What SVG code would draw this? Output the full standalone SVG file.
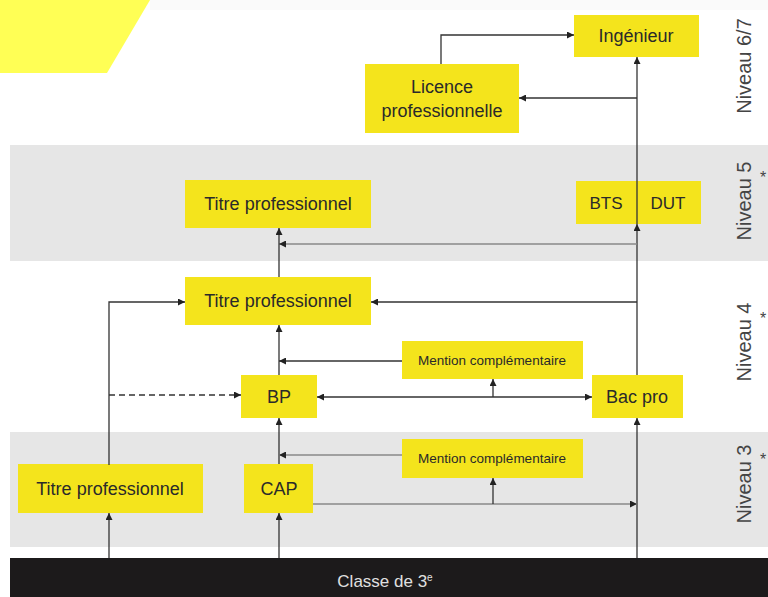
<svg xmlns="http://www.w3.org/2000/svg" width="768" height="597" viewBox="0 0 768 597">
<defs>
<marker id="ah" viewBox="0 0 10 10" refX="10" refY="5" markerWidth="7" markerHeight="7" markerUnits="userSpaceOnUse" orient="auto-start-reverse">
<path d="M0,0 L10,5 L0,10 z" fill="#222"/>
</marker>
<style>
.node rect{fill:#f4e41c}
.node text{font-family:"Liberation Sans",Arial,sans-serif;font-size:18px;fill:#2a2a2a;text-anchor:middle}
.node text.sm{font-size:13.5px}
.band{fill:#e6e6e6}
.lvl{font-family:"Liberation Sans",Arial,sans-serif;font-size:20px;fill:#444;text-anchor:middle}
.ast{font-family:"Liberation Sans",Arial,sans-serif;font-size:16px;fill:#444;text-anchor:middle}
.c{fill:none;stroke:#333;stroke-width:1.3}
.g{fill:none;stroke:#888;stroke-width:1.3}
</style>
</defs>
<rect x="0" y="0" width="768" height="597" fill="#ffffff"/>
<rect x="150" y="0" width="618" height="10" fill="#fafafa"/>
<polygon points="0,0 150,0 107,73 0,73" fill="#ffff55"/>
<rect class="band" x="10" y="145" width="758" height="116"/>
<rect class="band" x="10" y="432" width="758" height="115"/>
<rect x="10" y="558" width="758" height="39" fill="#1c1a1b"/>
<text x="385" y="587" font-family="'Liberation Sans',Arial,sans-serif" font-size="17" fill="#e0e0e0" text-anchor="middle">Classe de 3<tspan font-size="10" dy="-6">e</tspan></text>

<g id="levels">
<text class="lvl" transform="translate(751,66) rotate(-90)">Niveau 6/7</text>
<text class="lvl" transform="translate(751,201) rotate(-90)">Niveau 5</text>
<text class="ast" x="763" y="183">*</text>
<text class="lvl" transform="translate(751,342) rotate(-90)">Niveau 4</text>
<text class="ast" x="763" y="324">*</text>
<text class="lvl" transform="translate(751,484) rotate(-90)">Niveau 3</text>
<text class="ast" x="763" y="465">*</text>
</g>

<g id="ingenieur" class="node"><rect x="574" y="15" width="125" height="42"/><text x="636" y="42">Ingénieur</text></g>
<g id="licence" class="node"><rect x="365" y="64" width="154" height="69"/><text x="442" y="93">Licence</text><text x="442" y="117">professionnelle</text></g>
<g id="titre5" class="node"><rect x="185" y="180" width="186" height="48"/><text x="278" y="210">Titre professionnel</text></g>
<g id="btsdut" class="node"><rect x="576" y="181" width="125" height="43"/><text x="606" y="209" style="font-size:17px">BTS</text><text x="668" y="209" style="font-size:17px">DUT</text></g>
<g id="titre4" class="node"><rect x="185" y="277" width="186" height="48"/><text x="278" y="307">Titre professionnel</text></g>
<g id="mc4" class="node"><rect x="402" y="341" width="181" height="38"/><text class="sm" x="492" y="365">Mention complémentaire</text></g>
<g id="bp" class="node"><rect x="241" y="375" width="76" height="43"/><text x="279" y="403">BP</text></g>
<g id="bacpro" class="node"><rect x="592" y="375" width="91" height="43"/><text x="637" y="403">Bac pro</text></g>
<g id="mc3" class="node"><rect x="402" y="439" width="181" height="39"/><text class="sm" x="492" y="463">Mention complémentaire</text></g>
<g id="titre3" class="node"><rect x="18" y="464" width="185" height="49"/><text x="110" y="495">Titre professionnel</text></g>
<g id="cap" class="node"><rect x="244" y="464" width="69" height="49"/><text x="279" y="495">CAP</text></g>

<g id="connectors">
<path class="c" d="M441,64 V35 H574" marker-end="url(#ah)"/>
<path class="c" d="M637,558 V418" marker-end="url(#ah)"/>
<path class="c" d="M637,375 V224" marker-end="url(#ah)"/>
<path class="c" d="M637,224 V57" marker-end="url(#ah)"/>
<path class="c" d="M637,98 H519" marker-end="url(#ah)"/>
<path class="g" d="M637,244 H279" marker-end="url(#ah)"/>
<path class="c" d="M279,277 V228" marker-end="url(#ah)"/>
<path class="c" d="M637,302 H371" marker-end="url(#ah)"/>
<path class="c" d="M109,465 V302 H185" marker-end="url(#ah)"/>
<path class="c" d="M109,395 H241" stroke-dasharray="6,4" marker-end="url(#ah)"/>
<path class="c" d="M279,375 V325" marker-end="url(#ah)"/>
<path class="c" d="M402,361 H279" marker-end="url(#ah)"/>
<path class="c" d="M317,397 H592" marker-start="url(#ah)" marker-end="url(#ah)"/>
<path class="c" d="M493,397 V379" marker-end="url(#ah)"/>
<path class="c" d="M279,464 V418" marker-end="url(#ah)"/>
<path class="g" d="M402,455 H279" marker-end="url(#ah)"/>
<path class="g" d="M313,504 H637" marker-end="url(#ah)"/>
<path class="c" d="M493,504 V478" marker-end="url(#ah)"/>
<path class="c" d="M109,558 V513" marker-end="url(#ah)"/>
<path class="c" d="M279,558 V513" marker-end="url(#ah)"/>
</g>
</svg>
